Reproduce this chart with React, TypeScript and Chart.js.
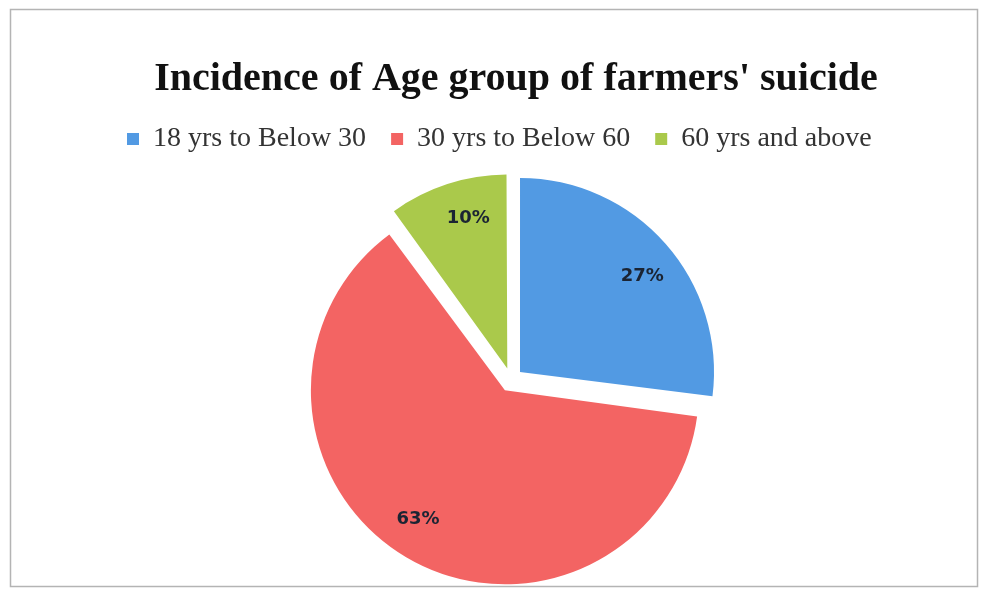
import { useEffect, useRef } from "react";
import { Chart, registerables } from "chart.js";

Chart.register(...registerables);

const titleText = "Incidence of Age group of farmers' suicide";
const categories = ["18 yrs to Below 30", "30 yrs to Below 60", "60 yrs and above"];
const shares = [27, 63, 10];
const sliceColors = ["#529ae3", "#f36463", "#aac94b"];

const RADIUS = 194;
const OFFSET = 48; // Chart.js translates arcs by offset / 4
const LABEL_RATIO = 0.8;
const LABEL_TURN = 0.06;

const framePlugin = {
  id: "frameAndTitle",
  beforeDraw(chart: any) {
    const ctx = chart.ctx;
    ctx.save();
    ctx.fillStyle = "#ffffff";
    ctx.fillRect(0, 0, chart.width, chart.height);
    ctx.strokeStyle = "#b4b4b4";
    ctx.lineWidth = 1.5;
    ctx.strokeRect(10.5, 9.5, 967, 577);
    ctx.restore();
  },
  afterDraw(chart: any) {
    const ctx = chart.ctx;
    ctx.save();
    ctx.fillStyle = "#111111";
    ctx.font = 'bold 40px "Liberation Serif", "Times New Roman", serif';
    ctx.textAlign = "center";
    ctx.textBaseline = "alphabetic";
    ctx.fillText(titleText, 516, 90);
    ctx.restore();
  },
};

// keep every exploded slice at the same radius (Chart.js enlarges slices > 180deg by the offset)
const equalRadiusPlugin = {
  id: "equalRadius",
  afterDatasetUpdate(chart: any, args: any) {
    const shift = OFFSET / 4;
    args.meta.data.forEach((arc: any) => {
      const circ = arc.circumference || 0;
      const fix = 1 - Math.sin(Math.min(Math.PI, circ));
      arc.outerRadius = RADIUS - shift * fix;
    });
  },
};

const labelPlugin = {
  id: "sliceLabels",
  afterDatasetsDraw(chart: any) {
    const ctx = chart.ctx;
    const meta = chart.getDatasetMeta(0);
    const data = chart.data.datasets[0].data as number[];
    const total = data.reduce((a: number, b: number) => a + b, 0);
    ctx.save();
    ctx.fillStyle = "#1b2433";
    ctx.font = 'bold 18px "DejaVu Sans", sans-serif';
    ctx.textAlign = "center";
    ctx.textBaseline = "middle";
    meta.data.forEach((arc: any, i: number) => {
      const { x, y, startAngle, endAngle } = arc.getProps(["x", "y", "startAngle", "endAngle"], true);
      const mid = (startAngle + endAngle) / 2;
      const shift = OFFSET / 4;
      const ax = x + Math.cos(mid) * shift;
      const ay = y + Math.sin(mid) * shift;
      const r = RADIUS * LABEL_RATIO;
      const lx = ax + Math.cos(mid + LABEL_TURN) * r;
      const ly = ay + Math.sin(mid + LABEL_TURN) * r;
      const pct = Math.round((data[i] / total) * 100);
      ctx.fillText(pct + "%", lx, ly);
    });
    ctx.restore();
  },
};

export default function App() {
  const canvasRef = useRef<HTMLCanvasElement | null>(null);

  useEffect(() => {
    if (!canvasRef.current) return;
    const chart = new Chart(canvasRef.current, {
      type: "pie",
      data: {
        labels: categories,
        datasets: [
          {
            data: shares,
            backgroundColor: sliceColors,
            borderWidth: 0,
            offset: OFFSET,
            hoverOffset: OFFSET,
          },
        ],
      },
      options: {
        responsive: false,
        animation: false,
        devicePixelRatio: 1,
        radius: RADIUS,
        layout: {
          padding: { top: 100, left: 102, right: 61, bottom: 0 },
        },
        plugins: {
          title: { display: false },
          tooltip: { enabled: false },
          legend: {
            display: true,
            position: "top",
            align: "start",
            labels: {
              boxWidth: 12,
              boxHeight: 12,
              padding: 25,
              color: "#333333",
              font: { family: '"Liberation Serif", "Times New Roman", serif', size: 28 },
            },
          },
        },
      } as any,
      plugins: [framePlugin, equalRadiusPlugin, labelPlugin],
    });
    return () => chart.destroy();
  }, []);

  return (
    <div
      style={{
        position: "absolute",
        left: 0,
        top: 0,
        width: 981,
        height: 589,
        overflow: "hidden",
        background: "#fff",
      }}
    >
      <canvas ref={canvasRef} width={981} height={597} style={{ display: "block" }} />
    </div>
  );
}
